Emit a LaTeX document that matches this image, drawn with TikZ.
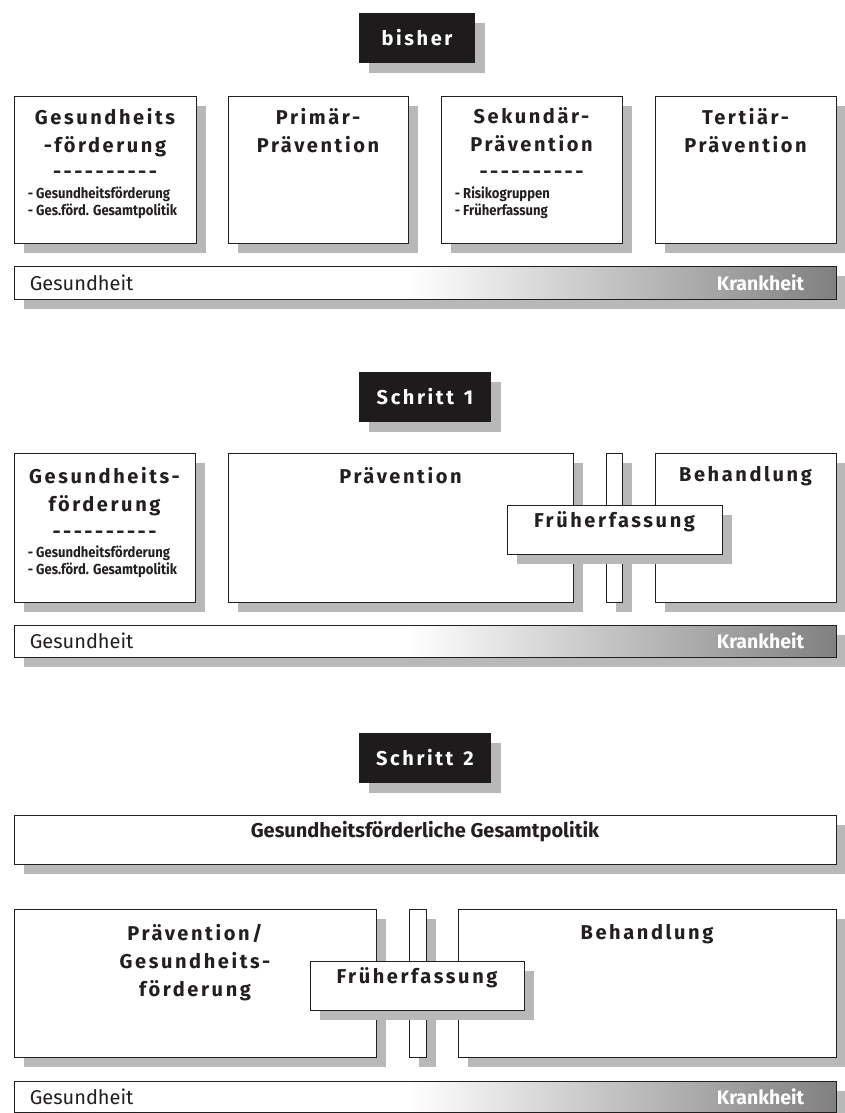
\documentclass[tikz,border=0pt]{standalone}
\usepackage{fontspec}
\usepackage{xcolor}
\usepackage{tikz}
\usetikzlibrary{positioning, fit, shadows}

\setmainfont{Fira Sans}
\newfontfamily\headfont[LetterSpace=13, Ligatures=NoCommon]{Fira Sans}
\newfontfamily\dashfont[LetterSpace=12.5]{Fira Sans}
\newfontfamily\listfont[FakeStretch=0.9]{Fira Sans}

\definecolor{ink}{HTML}{231F20}
\definecolor{shade}{HTML}{B8B8B8}
\definecolor{barend}{HTML}{808080}
\definecolor{titleblack}{HTML}{1D1B1C}
\pgfdeclarehorizontalshading{healthbar}{100bp}{color(0bp)=(white); color(49bp)=(white); color(75bp)=(barend); color(100bp)=(barend)}

\begin{document}
\begin{tikzpicture}[x=1pt, y=-1pt]

            \tikzset{
                shadowed/.style = {drop shadow={shadow xshift=10pt, shadow yshift=-10pt, fill=shade, opacity=1}},
                box/.style = {rectangle, draw=ink, line width=0.8pt, fill=white, inner sep=0pt, shadowed},
                titlebox/.style = {rectangle, fill=titleblack, text=white, inner sep=0pt, minimum height=50pt, font=\headfont\bfseries\fontsize{20}{22}\selectfont, shadowed},
                heading/.style = {inner sep=0pt, align=center, text=ink, font=\headfont\bfseries\fontsize{20}{28}\selectfont},
                dashes/.style = {inner sep=0pt, text=ink, font=\dashfont\bfseries\fontsize{20}{20}\selectfont},
                listing/.style = {inner sep=0pt, align=left, text=ink, font=\listfont\bfseries\fontsize{14.5}{16.5}\selectfont},
                bar/.style = {rectangle, draw=ink, line width=0.8pt, shading=healthbar, inner sep=0pt, shadowed},
                barlabel/.style = {inner sep=0pt, text=ink, font=\fontsize{20}{20}\selectfont},
                sicklabel/.style = {inner sep=0pt, text=white, font=\bfseries\fontsize{19.5}{20}\selectfont}
            }

            \useasboundingbox (0,0) rectangle (845,1113);

            % bisher
            \node (bisher) [titlebox, minimum width=116pt] at (417,38) {bisher};

            \node (gf) [box, fit={(14,96) (196,243)}] {};
            \node (pri) [box, fit={(228,96) (408,243)}] {};
            \node (sek) [box, fit={(441,96) (622,243)}] {};
            \node (ter) [box, fit={(655,96) (836,243)}] {};

            \node (gfhead) [heading, below=12pt of gf.north] {Gesundheits\\-förderung};
            \node (gfdash) [dashes, below=75pt of gf.north] {-{}-{}-{}-{}-{}-{}-{}-{}-{}-};
            \node (gflist) [listing, below right=91pt and 14pt of gf.north west] {- Gesundheitsförderung\\- Ges.förd. Gesamtpolitik};
            \node (prihead) [heading, below=12pt of pri.north] {Primär-\\Prävention};
            \node (sekhead) [heading, below=12pt of sek.north] {Sekundär-\\Prävention};
            \node (sekdash) [dashes, below=75pt of sek.north] {-{}-{}-{}-{}-{}-{}-{}-{}-{}-};
            \node (seklist) [listing, below right=91pt and 14pt of sek.north west] {- Risikogruppen\\- Früherfassung};
            \node (terhead) [heading, below=12pt of ter.north] {Tertiär-\\Prävention};

            \node (bar1) [bar, fit={(14,266) (836,299)}] {};
            \node (gesund1) [barlabel, right=16pt of bar1.west] {Gesundheit};
            \node (krank1) [sicklabel, left=32pt of bar1.east] {Krankheit};

            % Schritt 1
            \node (step1) [titlebox, minimum width=132pt] at (425,397) {Schritt\hspace{0.5em}1};

            \node (gf2) [box, fit={(14,453) (195,602)}] {};
            \node (prae) [box, fit={(228,453) (573,602)}] {};
            \node (gap1) [box, fit={(606,453) (622,602)}] {};
            \node (beh1) [box, fit={(655,453) (836,602)}] {};
            \node (frueh1) [box, heading, fit={(507,505) (722,554)}] {Früherfassung};

            \node (gf2head) [heading, below=14pt of gf2.north] {Gesundheits-\\förderung};
            \node (gf2dash) [dashes, below=78pt of gf2.north] {-{}-{}-{}-{}-{}-{}-{}-{}-{}-};
            \node (gf2list) [listing, below right=93pt and 14pt of gf2.north west] {- Gesundheitsförderung\\- Ges.förd. Gesamtpolitik};
            \node (praehead) [heading, below=14pt of prae.north] {Prävention};
            \node (beh1head) [heading, below=14pt of beh1.north] {Behandlung};

            \node (bar2) [bar, fit={(14,625) (836,657)}] {};
            \node (gesund2) [barlabel, right=16pt of bar2.west] {Gesundheit};
            \node (krank2) [sicklabel, left=32pt of bar2.east] {Krankheit};

            % Schritt 2
            \node (step2) [titlebox, minimum width=132pt] at (425,758) {Schritt\hspace{0.5em}2};

            \node (politik) [box, text=ink, font=\bfseries\fontsize{20}{22}\selectfont, fit={(14,815) (836,864)}] {Gesundheitsförderliche Gesamtpolitik};

            \node (praegf) [box, fit={(14,909) (376,1057)}] {};
            \node (gap2) [box, fit={(409,909) (426,1057)}] {};
            \node (beh2) [box, fit={(458,909) (836,1057)}] {};
            \node (frueh2) [box, heading, fit={(310,961) (524,1010)}] {Früherfassung};

            \node (praegfhead) [heading, below=15pt of praegf.north] {Prävention/\\Gesundheits-\\förderung};
            \node (beh2head) [heading, below=16pt of beh2.north] {Behandlung};

            \node (bar3) [bar, fit={(14,1081) (836,1112)}] {};
            \node (gesund3) [barlabel, right=16pt of bar3.west] {Gesundheit};
            \node (krank3) [sicklabel, left=32pt of bar3.east] {Krankheit};
        \end{tikzpicture}
\end{document}
